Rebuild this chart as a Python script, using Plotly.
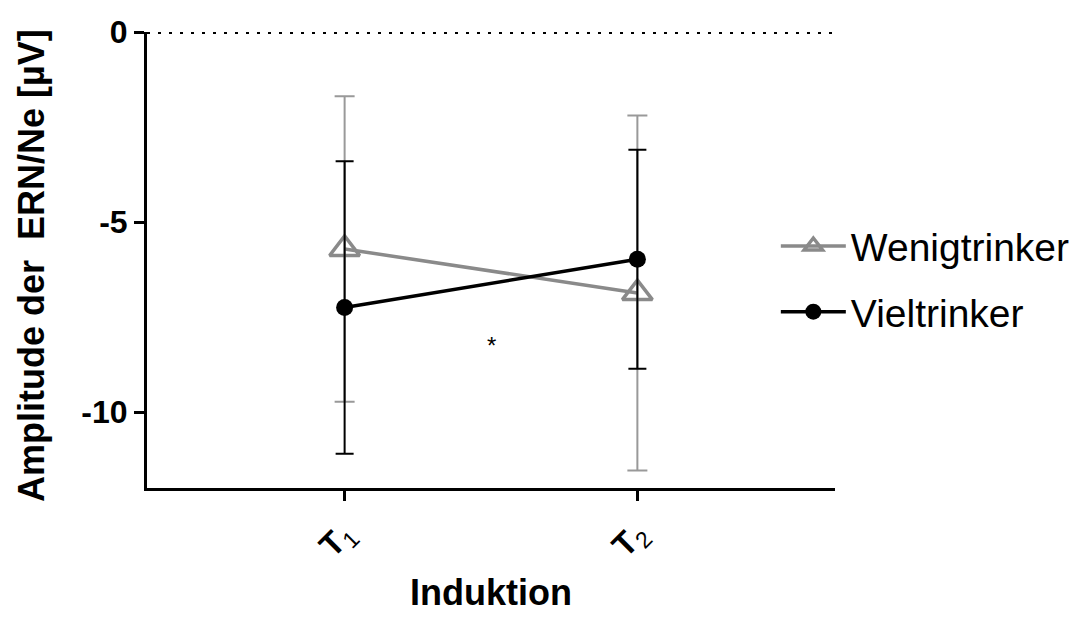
import plotly.graph_objects as go

categories = [1, 2]
tick_labels = ["<b>T</b><sub>1</sub>", "<b>T</b><sub>2</sub>"]
wenig_mean = [-5.71, -6.87]
wenig_err = [4.02, 4.67]
viel_mean = [-7.25, -5.98]
viel_err = [3.85, 2.88]
y_ticks = [0, -5, -10]
y_ticktext = ["0", "-5", "-10"]
star_pos = (1.5, -8.25)

FONT = "Liberation Sans, Arial, sans-serif"
# browser body margin (8px) offset compensation
OFF = 8

fig = go.Figure()
fig.add_trace(go.Scatter(
    x=categories, y=wenig_mean, name="Wenigtrinker", mode="lines+markers", legendgroup="w",
    line=dict(color="#8a8a8a", width=3.5),
    marker=dict(symbol="triangle-up-open", size=26, color="#8a8a8a", line=dict(width=3.5, color="#8a8a8a")),
    error_y=dict(type="data", array=wenig_err, color="#999999", thickness=2, width=10),
))
fig.add_trace(go.Scatter(
    x=categories, y=viel_mean, name="Vieltrinker", mode="lines+markers", legendgroup="v",
    line=dict(color="black", width=3.5),
    marker=dict(symbol="circle", size=17, color="black"),
    error_y=dict(type="data", array=viel_err, color="black", thickness=2, width=9),
))

fig.add_shape(type="line", xref="paper", yref="y", x0=0, x1=1, y0=0, y1=0,
              line=dict(color="black", width=4, dash="3px,8px"), layer="below")

fig.add_annotation(x=star_pos[0], y=star_pos[1], text="*", showarrow=False,
                   font=dict(family=FONT, size=24, color="black"))

# y-axis title as annotation for precise placement
fig.add_annotation(x=-0.167, y=0.487, xref="paper", yref="paper", text="<b>Amplitude der  ERN/Ne [µV]</b>",
                   textangle=-90, showarrow=False, xanchor="center", yanchor="middle",
                   font=dict(family=FONT, size=36, color="black"))

fig.update_layout(
    width=1078, height=617,
    margin=dict(l=147 - OFF, r=243 + OFF, t=32 - OFF, b=129 + OFF, autoexpand=False),
    paper_bgcolor="white", plot_bgcolor="white",
    font=dict(family=FONT, color="black"),
    showlegend=True,
    legend=dict(x=0.914, y=0.458, xanchor="left", yanchor="middle",
                font=dict(family=FONT, size=39, color="black"),
                itemwidth=65, tracegroupgap=12, bgcolor="rgba(0,0,0,0)"),
    xaxis=dict(range=[0.325, 2.675], tickvals=categories, ticktext=tick_labels,
               tickangle=-45, showgrid=False, zeroline=False, automargin=False,
               showline=True, linecolor="black", linewidth=3,
               ticks="outside", ticklen=10, tickwidth=3, tickcolor="black",
               tickfont=dict(family=FONT, size=33, color="black"),
               title=dict(text="<b>Induktion</b>", font=dict(family=FONT, size=36, color="black"), standoff=14)),
    yaxis=dict(range=[-12, 0], tickvals=y_ticks, ticktext=y_ticktext,
               showgrid=False, zeroline=False, automargin=False,
               showline=True, linecolor="black", linewidth=3,
               ticks="outside", ticklen=10, tickwidth=3, tickcolor="black",
               tickfont=dict(family=FONT, size=32, color="black", weight="bold")),
)

fig.write_html("out.html")
